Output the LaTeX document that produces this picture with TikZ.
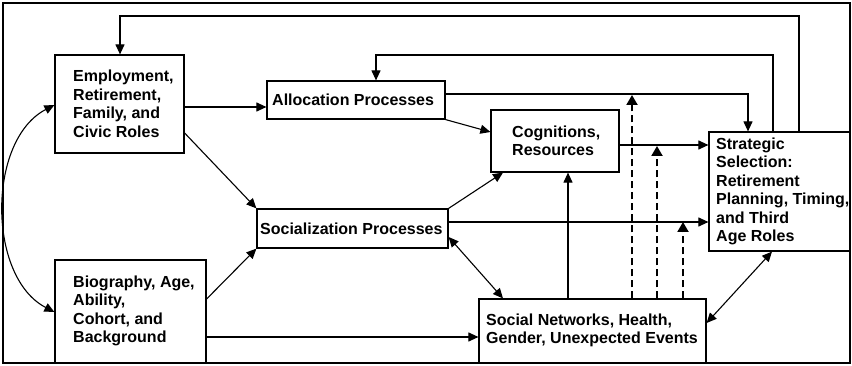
\documentclass[tikz,border=0pt]{standalone}
\usepackage{fontspec}
\setmainfont{Liberation Sans}
\usetikzlibrary{arrows.meta}
\begin{document}
\begin{tikzpicture}[x=1pt,y=-1pt,
  box/.style={draw, line width=1.2pt, inner sep=0pt, rectangle},
  lbl/.style={anchor=west, align=left, inner sep=0pt, font=\fontsize{16}{18.5}\selectfont\bfseries},
  arr/.style={line width=1.1pt, -{Triangle[length=10pt,width=9pt]}},
  darr/.style={line width=1.1pt, {Triangle[length=10pt,width=9pt]}-{Triangle[length=10pt,width=9pt]}},
  dsh/.style={line width=2pt, dash pattern=on 7pt off 4pt, -{Triangle[length=10pt,width=11pt]}}]
\useasboundingbox (0,0) rectangle (852,366);
\node[box, minimum width=847pt, minimum height=360pt] (frame) at (426.5,183) {};
% boxes
\node[box, minimum width=129pt, minimum height=98pt] (emp) at (119.5,104) {};
\node[box, minimum width=151pt, minimum height=103pt] (bio) at (130.5,311.5) {};
\node[box, minimum width=178pt, minimum height=38pt] (alloc) at (356,100) {};
\node[box, minimum width=128pt, minimum height=62pt] (cog) at (555,141) {};
\node[box, minimum width=141pt, minimum height=119pt] (strat) at (779.5,191.5) {};
\node[box, minimum width=191pt, minimum height=39pt] (soc) at (352.5,228.5) {};
\node[box, minimum width=227pt, minimum height=64pt] (net) at (592.5,331) {};
% texts
\node[lbl] (empT) at (73,104) {Employment,\\Retirement,\\Family, and\\Civic Roles};
\node[lbl] (bioT) at (73,311) {Biography, Age,\\Ability,\\Cohort, and\\Background};
\node[lbl] (allocT) at (272,100) {Allocation Processes};
\node[lbl] (cogT) at (512,141) {Cognitions,\\Resources};
\node[lbl] (stratT) at (716,191.5) {Strategic\\Selection:\\Retirement\\Planning, Timing,\\and Third\\Age Roles};
\node[lbl] (socT) at (260,228.5) {Socialization Processes};
\node[lbl] (netT) at (486,330.5) {Social Networks, Health,\\Gender, Unexpected Events};
% turn points
\coordinate (a1) at (799,16);
\coordinate (b1) at (120,16);
\coordinate (a2) at (773,55);
\coordinate (b2) at (376,55);
\coordinate (a3) at (748,94);
\coordinate (d1) at (632,95);
\coordinate (d2) at (657,146);
\coordinate (d3) at (683,222);
% feedback loops
\draw[arr] (a1 |- strat.north) -- (a1) -- (b1) -- (b1 |- emp.north);
\draw[arr] (a2 |- strat.north) -- (a2) -- (b2) -- (b2 |- alloc.north);
\draw[arr] (alloc.east |- a3) -- (a3) -- (a3 |- strat.north);
% forward arrows
\draw[arr] (emp.east |- 0,107) -- (alloc.west |- 0,107);
\draw[arr] (alloc.south east) -- (cog.west |- 0,132);
\draw[arr] (emp.east |- 0,133) -- (soc.north west);
\draw[arr] (bio.east |- 0,299) -- (soc.south west);
\draw[arr] (soc.north east) -- (cog.south -| 503,0);
\draw[arr] (cog.east |- 0,145) -- (strat.west |- 0,145);
\draw[arr] (soc.east |- 0,222) -- (strat.west |- 0,222);
\draw[darr] (soc.east |- 0,237) -- (net.north -| 503,0);
\draw[arr] (bio.east |- 0,337) -- (net.west |- 0,337);
\draw[arr] (net.north -| 568,0) -- (cog.south -| 568,0);
\draw[darr] (net.east |- 0,323) -- (strat.south -| 772,0);
\draw[darr] (emp.west |- 0,105) .. controls (-13,140) and (-13,277) .. (bio.west |- 0,312);
% dashed moderators
\draw[dsh] (net.north -| d1) -- (d1);
\draw[dsh] (net.north -| d2) -- (d2);
\draw[dsh] (net.north -| d3) -- (d3);
\end{tikzpicture}
\end{document}
